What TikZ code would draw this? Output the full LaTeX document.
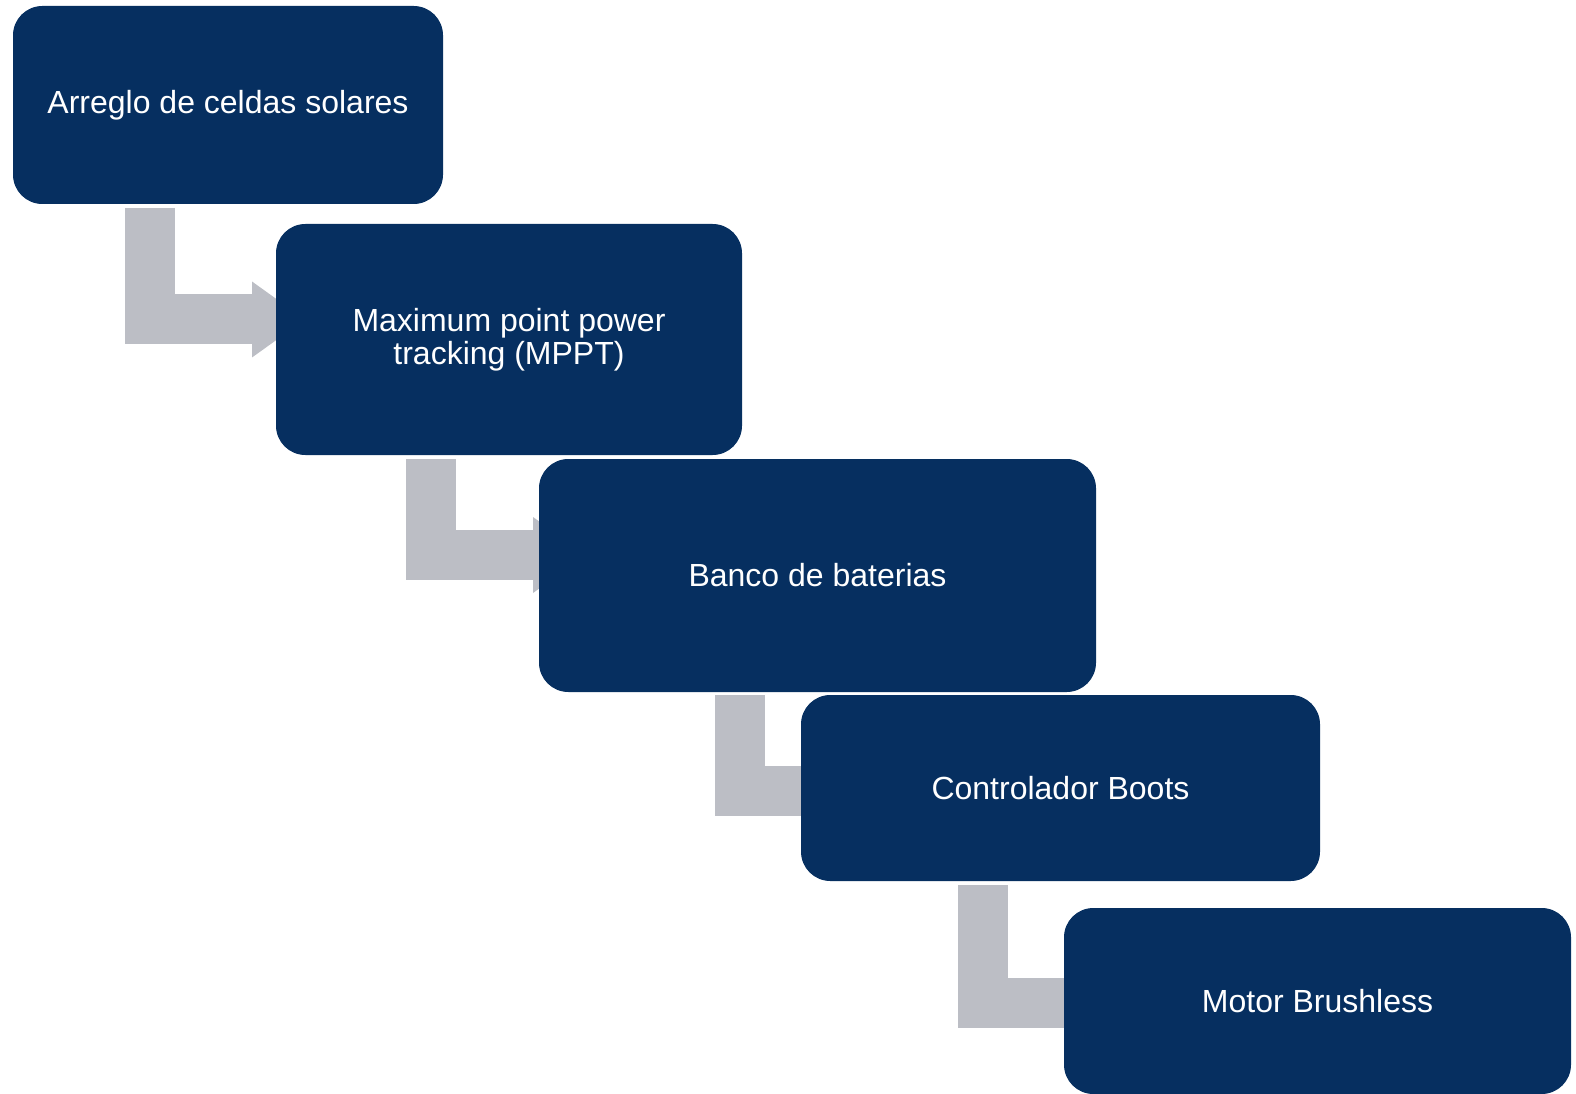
\documentclass[tikz,border=0pt]{standalone}
\usepackage{fontspec}
\setmainfont{Liberation Sans}
\usetikzlibrary{arrows.meta}
\usetikzlibrary{backgrounds}

\definecolor{navy}{RGB}{6,47,96}
\definecolor{flowgrey}{RGB}{188,190,197}

\begin{document}
\begin{tikzpicture}[x=0.75pt, y=-0.75pt]
    \tikzset{
      every node/.style={font=\fontsize{24}{24.75}\selectfont},
      stage/.style={fill=navy, text=white, rounded corners=22pt, align=center, inner sep=0pt},
      flow/.style={draw=flowgrey, line width=37.5pt,
        -{Triangle[length=39.75pt, width=57pt, line width=0pt]}},
    }
    \useasboundingbox (0,0) rectangle (1576,1094);

    \node[stage, minimum width=322.5pt, minimum height=148.5pt] (arreglo) at (228,105) {Arreglo de celdas solares};
    \node[stage, minimum width=349.5pt, minimum height=173.25pt] (mppt) at (509,339.5) {Maximum point power\\tracking (MPPT)};
    \node[stage, minimum width=417.75pt, minimum height=174.75pt] (banco) at (817.5,575.5) {Banco de baterias};
    \node[stage, minimum width=389.25pt, minimum height=139.5pt] (control) at (1060.5,788) {Controlador Boots};
    \node[stage, minimum width=380.25pt, minimum height=139.5pt] (motor) at (1317.5,1001) {Motor Brushless};

    % bent arrows behind the boxes
    \coordinate (s1) at (150,208);  \coordinate (t1) at (305,319.5);
    \coordinate (s2) at (431,459);  \coordinate (t2) at (586,555);
    \coordinate (s3) at (740,695);  \coordinate (t3) at (895,791);
    \coordinate (s4) at (983,885);  \coordinate (t4) at (1138,1003);

    \begin{scope}[on background layer]
      \draw[flow] (s1) |- (t1);
      \draw[flow] (s2) |- (t2);
      \draw[flow] (s3) |- (t3);
      \draw[flow] (s4) |- (t4);
    \end{scope}
\end{tikzpicture}
\end{document}
